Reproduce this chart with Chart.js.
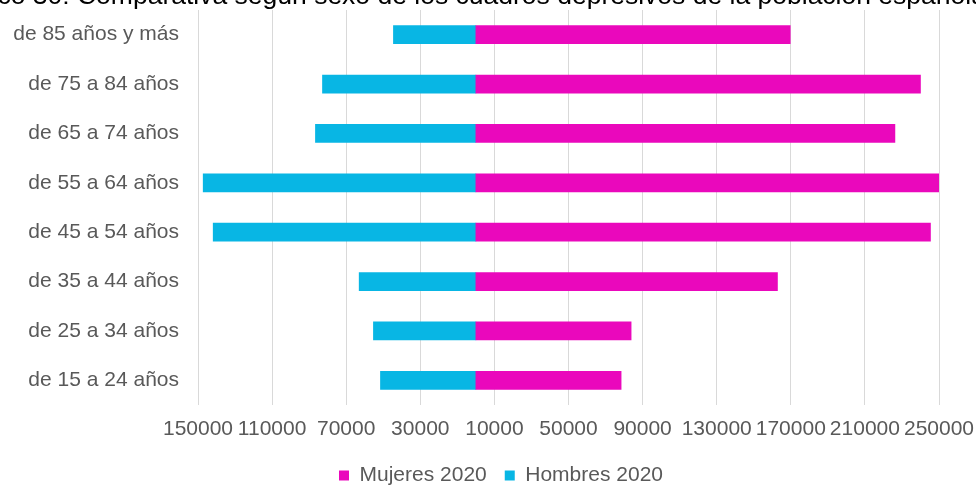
<!DOCTYPE html>
<html lang="es">
<head>
<meta charset="utf-8">
<title>Cuadros depresivos por sexo y edad</title>
<script src="https://cdn.jsdelivr.net/npm/chart.js@4/dist/chart.umd.min.js"></script>
<style>
    html, body { margin: 0; padding: 0; background: #fff; overflow: hidden; }
    #wrap { position: relative; width: 1002px; height: 496px; }
    #titulo {
        position: absolute; top: -18px; left: -60px;
        white-space: nowrap; font: 26.5px "Liberation Sans", Arial, sans-serif;
        color: #000; line-height: 26.5px;
    }
</style>
</head>
<body>
<div id="wrap">
    <div id="titulo">Gráfico 30: Comparativa según sexo de los cuadros depresivos de la población española</div>
    <canvas id="piramide" width="1002" height="496"></canvas>
</div>
<script>
(function () {
    "use strict";

    // Grupos de edad (de arriba abajo) y casos por sexo, 2020
    var edades = ["de 85 años y más", "de 75 a 84 años", "de 65 a 74 años", "de 55 a 64 años",
                  "de 45 a 54 años", "de 35 a 44 años", "de 25 a 34 años", "de 15 a 24 años"];
    var mujeres = [169700, 240000, 226200, 250100, 245400, 162800, 83800, 78400];
    var hombres = [44500, 82800, 86600, 147200, 141800, 63000, 55300, 51500];

    // Eje horizontal: los hombres van a la izquierda (valores negativos)
    var ejeMin = -150000;
    var ejeMax = 250000;
    var ejePaso = 40000;

    var gris = "#595959";
    var fuente = { family: "'Liberation Sans', Arial, sans-serif", size: 21 };

    var ctx = document.getElementById("piramide").getContext("2d");
    var grafico = new Chart(ctx, {
        type: "bar",
        data: {
            labels: edades,
            datasets: [{
                    label: "Mujeres 2020",
                    data: mujeres,
                    backgroundColor: "rgb(234, 8, 188)",
                    barThickness: 18
                },
                {
                    label: "Hombres 2020",
                    data: hombres.map(function (v) { return -v; }),
                    backgroundColor: "rgb(8, 182, 228)",
                    barThickness: 18
                }
            ]
        },
        options: {
            indexAxis: "y",
            responsive: false,
            animation: false,
            layout: { padding: { left: 0, right: 0, top: 10, bottom: 0 } },
            scales: {
                x: {
                    stacked: true,
                    min: ejeMin,
                    max: ejeMax,
                    border: { display: false },
                    grid: { color: "#d9d9d9", drawTicks: false },
                    ticks: {
                        stepSize: ejePaso,
                        color: gris,
                        font: fuente,
                        padding: 12,
                        maxRotation: 0,
                        autoSkip: false,
                        callback: function (v) { return String(Math.abs(v)); }
                    },
                    afterFit: function (s) {
                        s.height = 42;
                        s.paddingLeft = 0;
                        s.paddingRight = 0;
                    }
                },
                y: {
                    stacked: true,
                    border: { display: false },
                    grid: { display: false, drawTicks: false },
                    ticks: { color: gris, font: fuente, padding: 19 },
                    afterFit: function (s) {
                        s.width = 198;
                        s.paddingTop = 0;
                        s.paddingBottom = 0;
                    }
                },
                // margen derecho vacío (deja sitio a la última etiqueta del eje x)
                margen: {
                    type: "category",
                    axis: "y",
                    position: "right",
                    border: { display: false },
                    grid: { display: false, drawTicks: false },
                    ticks: { display: false },
                    afterFit: function (s) {
                        s.width = 63;
                        s.paddingTop = 0;
                        s.paddingBottom = 0;
                    }
                }
            },
            plugins: {
                legend: {
                    position: "bottom",
                    labels: {
                        color: gris,
                        font: fuente,
                        boxWidth: 10,
                        boxHeight: 10,
                        padding: 18
                    }
                },
                tooltip: { enabled: false }
            }
        }
    });
})();
</script>
</body>
</html>
